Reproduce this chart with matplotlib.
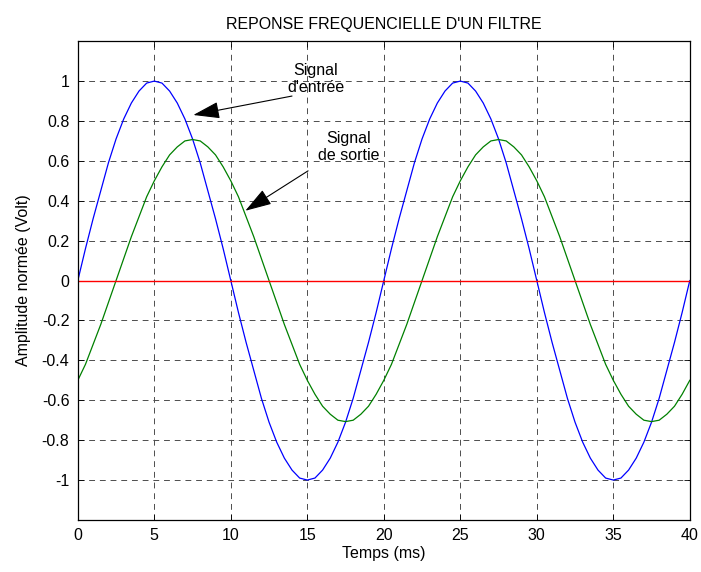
import matplotlib
matplotlib.use('Agg')
import matplotlib.pyplot as plt

# temps (ms), one sample every 0.5 ms
temps = [0, 0.5, 1, 1.5, 2, 2.5, 3, 3.5, 4, 4.5, 5, 5.5, 6, 6.5, 7, 7.5, 8, 8.5, 9, 9.5,
         10, 10.5, 11, 11.5, 12, 12.5, 13, 13.5, 14, 14.5, 15, 15.5, 16, 16.5, 17, 17.5, 18, 18.5, 19, 19.5,
         20, 20.5, 21, 21.5, 22, 22.5, 23, 23.5, 24, 24.5, 25, 25.5, 26, 26.5, 27, 27.5, 28, 28.5, 29, 29.5,
         30, 30.5, 31, 31.5, 32, 32.5, 33, 33.5, 34, 34.5, 35, 35.5, 36, 36.5, 37, 37.5, 38, 38.5, 39, 39.5,
         40]

entree = [0, 0.16, 0.31, 0.45, 0.59, 0.71, 0.81, 0.89, 0.95, 0.99,
          1.0, 0.99, 0.95, 0.89, 0.81, 0.71, 0.59, 0.45, 0.31, 0.16,
          0, -0.16, -0.31, -0.45, -0.59, -0.71, -0.81, -0.89, -0.95, -0.99,
          -1.0, -0.99, -0.95, -0.89, -0.81, -0.71, -0.59, -0.45, -0.31, -0.16,
          0, 0.16, 0.31, 0.45, 0.59, 0.71, 0.81, 0.89, 0.95, 0.99,
          1.0, 0.99, 0.95, 0.89, 0.81, 0.71, 0.59, 0.45, 0.31, 0.16,
          0, -0.16, -0.31, -0.45, -0.59, -0.71, -0.81, -0.89, -0.95, -0.99,
          -1.0, -0.99, -0.95, -0.89, -0.81, -0.71, -0.59, -0.45, -0.31, -0.16,
          0]

sortie = [-0.5, -0.42, -0.32, -0.22, -0.11, 0, 0.11, 0.22, 0.32, 0.42,
          0.5, 0.57, 0.63, 0.67, 0.70, 0.707, 0.70, 0.67, 0.63, 0.57,
          0.5, 0.42, 0.32, 0.22, 0.11, 0, -0.11, -0.22, -0.32, -0.42,
          -0.5, -0.57, -0.63, -0.67, -0.70, -0.707, -0.70, -0.67, -0.63, -0.57,
          -0.5, -0.42, -0.32, -0.22, -0.11, 0, 0.11, 0.22, 0.32, 0.42,
          0.5, 0.57, 0.63, 0.67, 0.70, 0.707, 0.70, 0.67, 0.63, 0.57,
          0.5, 0.42, 0.32, 0.22, 0.11, 0, -0.11, -0.22, -0.32, -0.42,
          -0.5, -0.57, -0.63, -0.67, -0.70, -0.707, -0.70, -0.67, -0.63, -0.57,
          -0.5]

zero_t = [0, 40]
zero_v = [0, 0]

xticks = [0, 5, 10, 15, 20, 25, 30, 35, 40]
yticks = [-1, -0.8, -0.6, -0.4, -0.2, 0, 0.2, 0.4, 0.6, 0.8, 1]
ytick_labels = ['-1', '-0.8', '-0.6', '-0.4', '-0.2', '0', '0.2', '0.4', '0.6', '0.8', '1']

plt.rcParams['font.family'] = ['Liberation Sans', 'DejaVu Sans']
plt.rcParams['font.size'] = 11.5

fig = plt.figure(figsize=(7.01, 5.72), dpi=100)
ax = fig.add_axes([0.111, 0.091, 0.873, 0.837])

ax.plot(temps, entree, color='#0000ff', lw=0.9)
ax.plot(temps, sortie, color='#008000', lw=0.9)
ax.plot(zero_t, zero_v, color='#ff0000', lw=1.0)

ax.set_xlim(0, 40)
ax.set_ylim(-1.2, 1.2)
ax.set_xticks(xticks)
ax.set_yticks(yticks)
ax.set_yticklabels(ytick_labels)
ax.tick_params(direction='in', top=True, right=True, length=4, width=0.6, pad=6)
ax.grid(True, color='0.3', linestyle=(0, (6, 5)), linewidth=0.7)
for s in ax.spines.values():
    s.set_linewidth(0.9)

ax.set_title("REPONSE FREQUENCIELLE D'UN FILTRE", fontsize=11.5, pad=9)
ax.set_xlabel('Temps (ms)', labelpad=2)
ax.set_ylabel('Amplitude normée (Volt)', labelpad=8)

arrow = dict(arrowstyle='-|>,head_length=1.1,head_width=0.35', color='k',
             lw=0.8, mutation_scale=15, shrinkA=0, shrinkB=0)
ax.annotate('', xy=(7.55, 0.83), xytext=(14.0, 0.925), arrowprops=arrow)
ax.text(15.55, 1.01, "Signal\nd'entrée", ha='center', va='center', linespacing=1.15)
ax.annotate('', xy=(10.95, 0.35), xytext=(15.05, 0.55), arrowprops=arrow)
ax.text(17.7, 0.67, "Signal\nde sortie", ha='center', va='center', linespacing=1.15)

fig.savefig('out.png', dpi=100)
